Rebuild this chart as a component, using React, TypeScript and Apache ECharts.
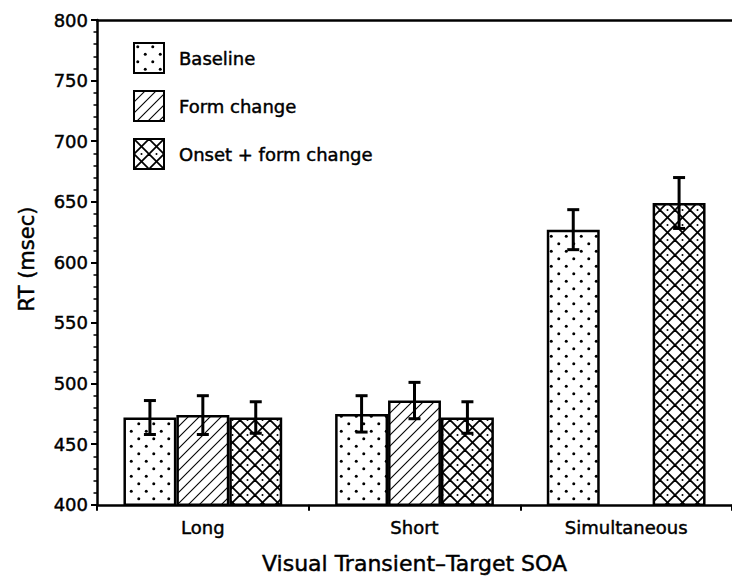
import React, { useEffect, useRef } from "react";
import * as echarts from "echarts";

const categories = ["Long", "Short", "Simultaneous"];
const seriesNames = ["Baseline", "Form change", "Onset + form change"];
const baselineValues = [472, 475, 627];
const formChangeValues: (number | string)[] = [474, 486, "-"];
const onsetValues = [472, 472, 649];
const baselineErrors = [14, 15, 16.5];
const formChangeErrors: (number | null)[] = [16, 15, null];
const onsetErrors = [13, 13, 21];
const yTicks = { min: 400, max: 800, interval: 50 };

const FONT = "DejaVu Sans";
const TEXT_THICK = { textBorderColor: "#000", textBorderWidth: 0.45 };

function makePattern(kind: "dots" | "hatch" | "cross") {
  const size = kind === "hatch" ? 11 : 15;
  const c = document.createElement("canvas");
  c.width = size;
  c.height = size;
  const ctx = c.getContext("2d")!;
  ctx.fillStyle = "#fff";
  ctx.fillRect(0, 0, size, size);
  ctx.fillStyle = "#000";
  ctx.strokeStyle = "#000";
  const dot = (x: number, y: number, r: number) => {
    ctx.beginPath();
    ctx.arc(x, y, r, 0, Math.PI * 2);
    ctx.fill();
  };
  if (kind === "dots") {
    dot(3.75, 3.75, 1.5);
    dot(11.25, 11.25, 1.5);
  } else if (kind === "hatch") {
    ctx.lineWidth = 1.1;
    for (let k = -1; k <= 1; k++) {
      ctx.beginPath();
      ctx.moveTo(k * size - 1, size + 1);
      ctx.lineTo(k * size + size + 1, -1);
      ctx.stroke();
    }
  } else {
    ctx.lineWidth = 1.8;
    for (let k = -1; k <= 1; k++) {
      ctx.beginPath();
      ctx.moveTo(k * size - 1, size + 1);
      ctx.lineTo(k * size + size + 1, -1);
      ctx.stroke();
      ctx.beginPath();
      ctx.moveTo(k * size - 1, -1);
      ctx.lineTo(k * size + size + 1, size + 1);
      ctx.stroke();
    }
    dot(size / 2, 0, 1);
    dot(size / 2, size, 1);
  }
  return {
    image: c.toDataURL(),
    repeat: "repeat",
    imageWidth: size,
    imageHeight: size,
  } as any;
}

export default function App() {
  const ref = useRef<HTMLDivElement>(null);
  useEffect(() => {
    if (!ref.current) return;
    const chart = echarts.init(ref.current, null, { renderer: "svg" });
    const patterns = [makePattern("dots"), makePattern("hatch"), makePattern("cross")];
    const values = [baselineValues, formChangeValues, onsetValues];
    const errors = [baselineErrors, formChangeErrors, onsetErrors];

    const errData: number[][] = [];
    errors.forEach((arr, si) => {
      arr.forEach((e, ci) => {
        const v = values[si][ci];
        if (e != null && typeof v === "number") errData.push([ci, v, e, si]);
      });
    });

    const barSeries = seriesNames.map((name, i) => ({
      name,
      type: "bar",
      data: values[i],
      barGap: "0%",
      barCategoryGap: "25%",
      itemStyle: {
        color: patterns[i],
        borderColor: "#000",
        borderWidth: 2.5,
      },
      emphasis: { disabled: true },
    }));

    chart.setOption({
      animation: false,
      grid: { left: 97, top: 20, bottom: 75, right: -7 },
      legend: {
        data: seriesNames,
        orient: "vertical",
        left: 133,
        top: 42,
        itemWidth: 30,
        itemHeight: 30,
        itemGap: 16,
        padding: 0,
        icon: "rect",
        textStyle: {
          fontFamily: FONT,
          fontSize: 18,
          color: "#000",
          padding: [0, 0, 0, 10],
          ...TEXT_THICK,
        },
      },
      xAxis: [
        {
          type: "category",
          data: categories,
          name: "Visual Transient\u2013Target SOA",
          nameLocation: "middle",
          nameGap: 48,
          nameTextStyle: { fontFamily: FONT, fontSize: 22, color: "#000", ...TEXT_THICK },
          axisLine: { lineStyle: { color: "#000", width: 2.5 } },
          axisTick: { show: true, length: 6, lineStyle: { color: "#000", width: 2 } },
          axisLabel: { fontFamily: FONT, fontSize: 18, color: "#000", margin: 14, ...TEXT_THICK },
        },
        {
          type: "category",
          data: categories,
          position: "top",
          axisLine: { show: true, lineStyle: { color: "#000", width: 2.5 } },
          axisTick: { show: false },
          axisLabel: { show: false },
        },
      ],
      yAxis: {
        type: "value",
        min: yTicks.min,
        max: yTicks.max,
        interval: yTicks.interval,
        axisLine: { show: true, lineStyle: { color: "#000", width: 2.5 } },
        axisTick: { show: true, length: 6, lineStyle: { color: "#000", width: 2 } },
        minorTick: { show: true, splitNumber: 5, length: 3.5, lineStyle: { color: "#000", width: 1.5 } },
        splitLine: { show: false },
        axisLabel: { fontFamily: FONT, fontSize: 18, color: "#000", margin: 9, ...TEXT_THICK },
      },
      graphic: [
        {
          type: "text",
          x: 27,
          y: 259,
          rotation: Math.PI / 2,
          style: {
            text: "RT (msec)",
            fontFamily: FONT,
            fontSize: 21,
            fill: "#000",
            stroke: "#000",
            lineWidth: 0.45,
            align: "center",
            verticalAlign: "middle",
          },
        },
      ],
      series: [
        ...barSeries,
        {
          type: "custom",
          name: "errors",
          data: errData,
          encode: { x: 0, y: 1 },
          z: 10,
          silent: true,
          renderItem: (params: any, api: any) => {
            const ci = api.value(0);
            const v = api.value(1);
            const e = api.value(2);
            const si = api.value(3);
            const bw = api.size([1, 0])[0] * 0.25;
            const cx = api.coord([ci, v])[0] + (si - 1) * bw;
            const top = api.coord([ci, v + e])[1];
            const bot = api.coord([ci, v - e])[1];
            const half = 6;
            const st = { stroke: "#000", lineWidth: 3 };
            return {
              type: "group",
              children: [
                { type: "line", shape: { x1: cx, y1: top, x2: cx, y2: bot }, style: st },
                { type: "line", shape: { x1: cx - half, y1: top, x2: cx + half, y2: top }, style: st },
                { type: "line", shape: { x1: cx - half, y1: bot, x2: cx + half, y2: bot }, style: st },
              ],
            };
          },
        },
      ],
    });
    return () => chart.dispose();
  }, []);
  return <div ref={ref} style={{ width: 732, height: 580, position: "absolute", left: 0, top: 0 }} />;
}
